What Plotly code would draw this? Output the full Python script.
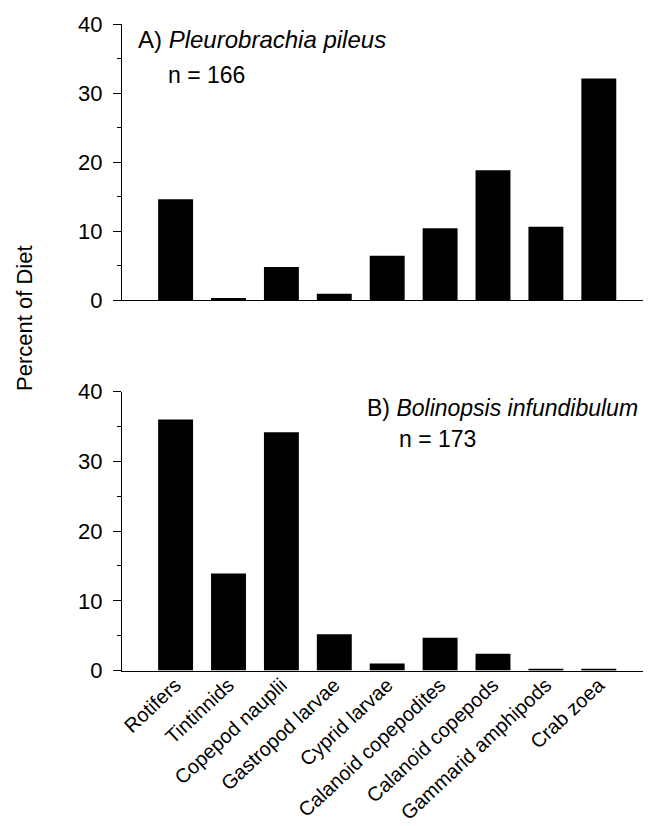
import plotly.graph_objects as go

categories = ["Rotifers", "Tintinnids", "Copepod nauplii", "Gastropod larvae",
              "Cyprid larvae", "Calanoid copepodites", "Calanoid copepods",
              "Gammarid amphipods", "Crab zoea"]
pleurobrachia = [14.6, 0.3, 4.8, 0.9, 6.4, 10.4, 18.8, 10.6, 32.1]
bolinopsis = [36.0, 13.9, 34.2, 5.2, 1.0, 4.7, 2.4, 0.2, 0.2]
y_ticks = [0, 10, 20, 30, 40]

W, H = 635, 818
OX, OY = 8, 8
FONT = "Liberation Sans, Arial, Helvetica, sans-serif"

def px(x):
    return (x - OX) / W

def py(y):
    return 1 - (y - OY) / H

fig = go.Figure()
fig.add_trace(go.Bar(x=categories, y=pleurobrachia, xaxis="x", yaxis="y",
                     marker=dict(color="black", line=dict(width=0)), width=0.66,
                     showlegend=False))
fig.add_trace(go.Bar(x=categories, y=bolinopsis, xaxis="x2", yaxis="y2",
                     marker=dict(color="black", line=dict(width=0)), width=0.66,
                     showlegend=False))

x_left, x_right = 122, 643
center0, pitch = 175.6, 52.9
xr = [-(center0 - x_left) / pitch, (x_right - center0) / pitch]
xdom = [px(x_left), px(x_right)]

common_y = dict(range=[0, 40], tickvals=y_ticks, ticks="outside", ticklen=8,
                tickwidth=1.2, tickcolor="black", showline=True, linecolor="black",
                linewidth=1.2, showgrid=False, zeroline=False, automargin=False,
                tickfont=dict(family=FONT, size=22, color="black"),
                ticklabelstandoff=6,
                minor=dict(tickvals=[5, 15, 25, 35], ticks="outside", ticklen=4,
                           tickwidth=1, tickcolor="black"))
common_x = dict(range=xr, domain=xdom, showline=True, automargin=False,
                linecolor="black", linewidth=1.2, showgrid=False, zeroline=False,
                ticks="", type="category")

fig.update_layout(
    template="none",
    width=W, height=H,
    margin=dict(l=0, r=0, t=0, b=0, autoexpand=False),
    paper_bgcolor="white", plot_bgcolor="white",
    xaxis=dict(**common_x, anchor="y", showticklabels=False),
    yaxis=dict(**common_y, domain=[py(300), py(24)], anchor="x"),
    xaxis2=dict(**common_x, anchor="y2", showticklabels=True, tickangle=-43,
                ticklabelstandoff=-6,
                tickfont=dict(family=FONT, size=20, color="black")),
    yaxis2=dict(**common_y, domain=[py(670.5), py(391.7)], anchor="x2"),
)

annots = [
    dict(text="A) <i>Pleurobrachia pileus</i>", x=px(136), y=py(40), size=24),
    dict(text="n = 166", x=px(166), y=py(75), size=23),
    dict(text="B) <i>Bolinopsis infundibulum</i>", x=px(365), y=py(408), size=23),
    dict(text="n = 173", x=px(397), y=py(439), size=23),
]
for a in annots:
    fig.add_annotation(text=a["text"], x=a["x"], y=a["y"], xref="paper", yref="paper",
                       xanchor="left", yanchor="middle", showarrow=False,
                       font=dict(family=FONT, size=a["size"], color="black"))

fig.add_annotation(text="Percent of Diet", x=px(24), y=py(318), xref="paper", yref="paper",
                   xanchor="center", yanchor="middle", showarrow=False, textangle=-90,
                   font=dict(family=FONT, size=22, color="black"))

fig.write_html("out.html")
